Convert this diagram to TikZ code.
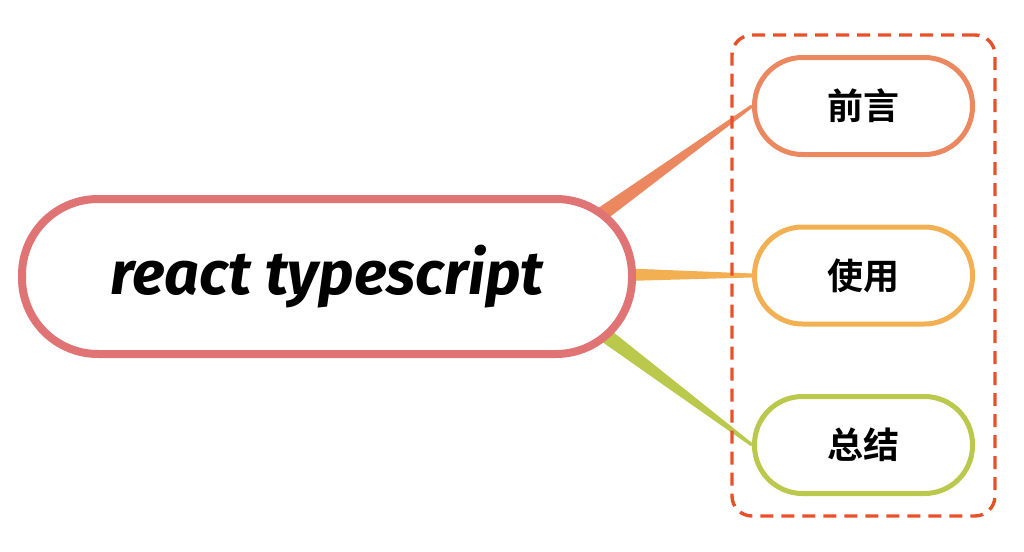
\documentclass[tikz,border=0pt]{standalone}
\usepackage{fontspec}
\usetikzlibrary{calc,fit,backgrounds}
\newfontfamily\cjkfont{Noto Sans CJK SC}[BoldFont={Noto Sans CJK SC Bold}]
\newfontfamily\handfont{Fira Sans}

\definecolor{rootcol}{HTML}{E07474}
\definecolor{introcol}{HTML}{EB8860}
\definecolor{usagecol}{HTML}{F3B052}
\definecolor{summarycol}{HTML}{BAC84B}
\definecolor{groupcol}{HTML}{E8502A}

\begin{document}
\begin{tikzpicture}[x=0.5pt,y=-0.5pt,
  rootbox/.style={draw=rootcol, line width=4pt, fill=white, rounded corners=38pt,
    minimum width=305pt, minimum height=77.5pt,
    font=\handfont\bfseries\itshape\fontsize{30.5}{34}\selectfont},
  topicbox/.style={line width=2.5pt, fill=white, rounded corners=24pt,
    minimum width=109pt, minimum height=48.5pt,
    font=\cjkfont\bfseries\fontsize{18}{22}\selectfont},
  groupbox/.style={draw=groupcol, dash pattern=on 6.5pt off 4pt, line width=1.7pt,
    rounded corners=10pt, inner sep=10pt}]
\useasboundingbox (0,0) rectangle (1024,552);

% root and topics
\node [rootbox] (main) at (327,276.5) {react typescript};
\node [topicbox, draw=introcol] (intro) at (863.5,106) {前言};
\node [topicbox, draw=usagecol] (usage) at (863.5,275.5) {使用};
\node [topicbox, draw=summarycol] (summary) at (863.5,445) {总结};

\node [groupbox, fit=(intro)(summary)] (group) {};

% tapered branches, behind the boxes
\coordinate (introstart) at ($(main.east)+(-86,-25)$);
\coordinate (usagestart) at ($(main.east)+(-36,-2)$);
\coordinate (summarystart) at ($(main.east)+(-73,27)$);

\begin{pgfonlayer}{background}
\fill[introcol] ($(introstart)!4.5pt!90:(intro.west)$) -- ($(intro.west)!0.8pt!-90:(introstart)$)
  -- ($(intro.west)!0.8pt!90:(introstart)$) -- ($(introstart)!4.5pt!-90:(intro.west)$) -- cycle;
\fill[usagecol] ($(usagestart)!3.6pt!90:(usage.west)$) -- ($(usage.west)!1pt!-90:(usagestart)$)
  -- ($(usage.west)!1pt!90:(usagestart)$) -- ($(usagestart)!3.6pt!-90:(usage.west)$) -- cycle;
\fill[summarycol] ($(summarystart)!4.5pt!90:(summary.west)$) -- ($(summary.west)!0.8pt!-90:(summarystart)$)
  -- ($(summary.west)!0.8pt!90:(summarystart)$) -- ($(summarystart)!4.5pt!-90:(summary.west)$) -- cycle;
\end{pgfonlayer}
\end{tikzpicture}
\end{document}
